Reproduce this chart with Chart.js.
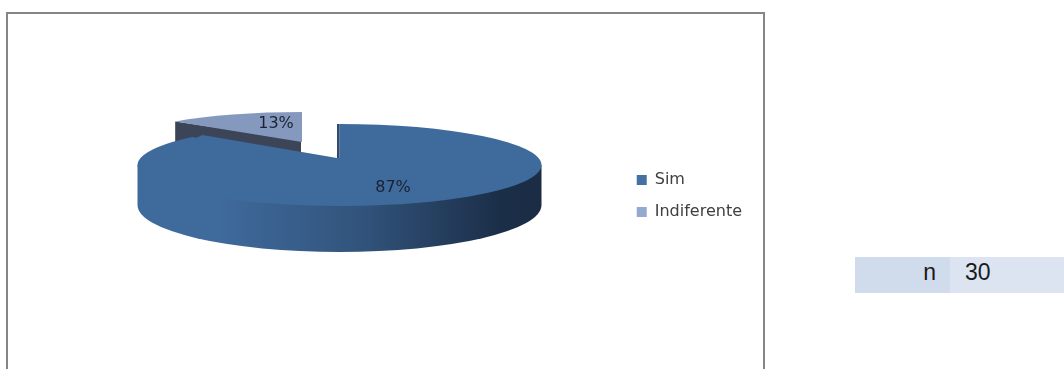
<!DOCTYPE html>
<html lang="en">
<head>
  <meta charset="UTF-8">
  <title>Pie chart</title>
  <script src="https://cdn.jsdelivr.net/npm/chart.js"></script>
  <style>
    html, body {
      margin: 0;
      padding: 0;
      background: white;
      overflow: hidden;
      width: 1064px;
      height: 369px;
    }

    #frame {
      position: absolute;
      left: 6px;
      top: 12px;
      width: 755px;
      height: 370px;
      border: 2px solid #868686;
      box-sizing: content-box;
    }

    #frame canvas {
      position: absolute;
      left: 0;
      top: 0;
    }

    .cell {
      position: absolute;
      top: 257px;
      height: 36px;
      line-height: 31px;
      font-family: 'Liberation Sans', sans-serif;
      font-size: 23px;
      color: #1a1a1a;
    }

    #cell-label {
      left: 855px;
      width: 81px;
      padding-right: 14px;
      text-align: right;
      background: #d0dcec;
    }

    #cell-value {
      left: 950px;
      width: 99px;
      padding-left: 15px;
      background: #dbe4f0;
    }
  </style>
</head>
<body>

<div id="frame"><canvas id="chart" width="755" height="370"></canvas></div>
<div class="cell" id="cell-label">n</div>
<div class="cell" id="cell-value">30</div>

<script>
const categories = ['Sim', 'Indiferente'];
const values = [87, 13];
const faceColors = ['#3f6a9c', '#8599bf'];
const legendColors = ['#4470a4', '#94a9d0'];

// frame offset, the numbers below are page pixels
const ox = 8, oy = 14;
const big = { cx: 339.5, cy: 165, rx: 202, ry: 41, depthSide: 40, depthLow: 47, tipLift: 7, lean: 4 * Math.PI / 180 };
const small = { cx: 302, cy: 142, rx: 174, ry: 30, depthLeft: 30, depthRight: 10 };

function pointAt(g, angle) {
  return [g.cx + g.rx * Math.cos(angle), g.cy + g.ry * Math.sin(angle)];
}

function polygon(ctx, pts, color) {
  ctx.beginPath();
  pts.forEach((p, i) => i ? ctx.lineTo(p[0], p[1]) : ctx.moveTo(p[0], p[1]));
  ctx.closePath();
  ctx.fillStyle = color;
  ctx.fill();
}

function drawFace(ctx, arc, g) {
  const R = arc.outerRadius;
  ctx.save();
  ctx.translate(g.cx, g.cy);
  ctx.scale(g.rx / R, g.ry / R);
  ctx.translate(-arc.x, -arc.y);
  arc.draw(ctx);
  ctx.restore();
}

function drawSmallSlice(ctx, arc) {
  const corner = pointAt(small, arc.startAngle);
  polygon(ctx, [
    corner,
    [corner[0], corner[1] + small.depthLeft],
    [small.cx - 1, small.cy + small.depthRight + 20],
    [small.cx - 1, small.cy - 2],
  ], '#3c4557');
  drawFace(ctx, arc, small);
}

function drawBigSlice(ctx, arc) {
  const wall = ctx.createLinearGradient(big.cx - big.rx, 0, big.cx + big.rx, 0);
  wall.addColorStop(0, '#3f6a9c');
  wall.addColorStop(0.2, '#3f6a9c');
  wall.addColorStop(0.55, '#32547c');
  wall.addColorStop(0.9, '#1b2e48');
  wall.addColorStop(1, '#1b2c44');

  // wall starts on the centre line so the face covers its top edge with no seam
  ctx.beginPath();
  ctx.moveTo(big.cx - big.rx, big.cy);
  ctx.lineTo(big.cx + big.rx, big.cy);
  ctx.ellipse(big.cx, big.cy + big.depthSide, big.rx, big.depthLow, 0, 0, Math.PI, false);
  ctx.closePath();
  ctx.fillStyle = wall;
  ctx.fill();

  drawFace(ctx, arc, big);

  // the picture has perspective, so the notch tip is higher than the ellipse centre
  const tip = [big.cx - 2.5, big.cy - big.tipLift];
  const end = pointAt(big, arc.endAngle);
  const leaned = pointAt(big, arc.endAngle + big.lean);
  polygon(ctx, [tip, [big.cx + 3, tip[1]], [big.cx + 3, big.cy + 3], [end[0], end[1] + 3], leaned], arc.options.backgroundColor);

  const top = pointAt(big, arc.startAngle);
  polygon(ctx, [[tip[0], top[1]], top, [big.cx, tip[1]], tip], '#2f4a6e');
}

function drawLabel(ctx, text, x, y) {
  ctx.font = "16px 'DejaVu Sans', sans-serif";
  ctx.fillStyle = '#1a2233';
  ctx.textAlign = 'center';
  ctx.textBaseline = 'middle';
  ctx.fillText(text, x, y);
}

const pie3d = {
  id: 'pie3d',
  beforeDatasetsDraw(chart) {
    const ctx = chart.ctx;
    const arcs = chart.getDatasetMeta(0).data;
    ctx.save();
    ctx.translate(-ox, -oy);
    drawSmallSlice(ctx, arcs[1]);
    drawBigSlice(ctx, arcs[0]);
    drawLabel(ctx, values[0] + '%', 393, 188);
    drawLabel(ctx, values[1] + '%', 276, 124);
    ctx.restore();
    return false;
  }
};

new Chart(document.getElementById('chart').getContext('2d'), {
  type: 'pie',
  data: {
    labels: categories,
    datasets: [{ data: values, backgroundColor: faceColors, borderWidth: 0 }]
  },
  options: {
    responsive: false,
    animation: false,
    layout: { padding: { top: 0, bottom: 6, right: 11 } },
    plugins: {
      tooltip: { enabled: false },
      legend: {
        position: 'right',
        labels: {
          boxWidth: 10,
          boxHeight: 10,
          padding: 16,
          color: '#404040',
          font: { family: "'DejaVu Sans', sans-serif", size: 16 },
          generateLabels(chart) {
            return Chart.overrides.pie.plugins.legend.labels.generateLabels(chart)
              .map((item, i) => ({ ...item, fillStyle: legendColors[i] }));
          }
        }
      }
    }
  },
  plugins: [pie3d]
});
</script>

</body>
</html>
